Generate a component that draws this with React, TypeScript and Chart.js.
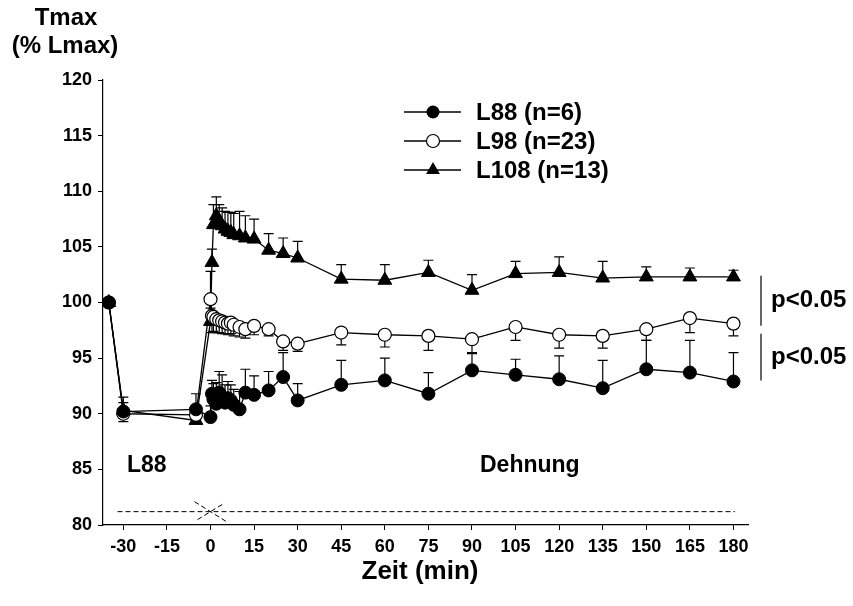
import React, { useEffect, useRef } from 'react';
import { Chart, registerables } from 'chart.js';

Chart.register(...registerables);

// time points (min)
const times = [-35, -30, -5, 0, 0.5, 1, 2, 3, 4, 5, 6, 7, 8, 10, 12, 15, 20, 25, 30, 45, 60, 75, 90, 105, 120, 135, 150, 165, 180];

// L88 (n=6), filled circles, SE drawn upward
const l88 = [100, 90.2, 90.4, 89.7, 91.8, 91.3, 90.9, 91.9, 91.5, 91.0, 91.4, 91.2, 90.8, 90.4, 91.9, 91.7, 92.1, 93.3, 91.2, 92.6, 93.0, 91.8, 93.9, 93.5, 93.1, 92.3, 94.0, 93.7, 92.9];
const l88Err = [0, 0.8, 1.4, 1.0, 1.2, 1.4, 1.9, 1.9, 2.0, 1.6, 1.5, 1.4, 1.4, 1.6, 2.1, 1.7, 1.7, 2.2, 1.5, 2.2, 2.0, 1.9, 1.6, 1.4, 2.1, 2.5, 2.6, 2.9, 2.6];

// L98 (n=23), open circles, SE drawn downward
const l98 = [100, 90.0, 89.9, 100.3, 98.8, 98.7, 98.5, 98.4, 98.3, 98.2, 98.1, 98.2, 98.0, 97.8, 97.6, 97.9, 97.6, 96.5, 96.3, 97.3, 97.1, 97.0, 96.7, 97.8, 97.1, 97.0, 97.6, 98.6, 98.1];
const l98Err = [0, 0.7, 0.6, 0.8, 1.5, 1.3, 1.2, 1.1, 1.1, 1.0, 1.0, 1.0, 1.0, 0.9, 0.8, 0.8, 0.6, 0.8, 0.7, 1.1, 1.1, 1.3, 1.3, 1.2, 1.2, 1.1, 1.0, 1.3, 1.1];

// L108 (n=13), filled triangles, SE drawn upward
const l108 = [100, 90.3, 89.4, 98.3, 103.6, 107.0, 107.8, 107.3, 106.9, 106.6, 106.4, 106.3, 106.1, 106.0, 105.8, 105.7, 104.7, 104.4, 104.0, 102.1, 102.0, 102.7, 101.1, 102.6, 102.7, 102.2, 102.3, 102.3, 102.3];
const l108Err = [0, 1.2, 0.8, 4.5, 1.2, 1.8, 1.7, 1.5, 1.6, 1.6, 1.7, 1.8, 1.9, 2.2, 2.0, 1.8, 1.5, 1.4, 1.5, 1.3, 1.4, 1.1, 1.4, 1.1, 1.4, 1.5, 0.9, 0.8, 0.6];

const seriesLabels = ['L88 (n=6)', 'L98 (n=23)', 'L108 (n=13)'];
const xTicks = [-30, -15, 0, 15, 30, 45, 60, 75, 90, 105, 120, 135, 150, 165, 180];
const yTicks = [80, 85, 90, 95, 100, 105, 110, 115, 120];

// annotations (data units)
const phaseLabels = ['L88', 'Dehnung'];
const phaseLine = { y: 81.2, from: -32, to: 180.5 };
const sigText = 'p<0.05';
const sigRanges = [[102.4, 97.9], [97.2, 93.0]];
const sigTextY = [100.2, 95.1];

const FONT = "'Liberation Sans', Arial, Helvetica, sans-serif";

const errSets = [
  { errs: l88Err, dir: 1 },
  { errs: l98Err, dir: -1 },
  { errs: l108Err, dir: 1 },
];

const toPts = (vals: number[]) => vals.map((v, i) => ({ x: times[i], y: v }));

export default function App() {
  const ref = useRef<HTMLCanvasElement | null>(null);

  useEffect(() => {
    const canvas = ref.current;
    if (!canvas) return;

    const errorBars = {
      id: 'errorBars',
      beforeDatasetsDraw(chart: any) {
        const { ctx } = chart;
        const xs = chart.scales.x;
        const ys = chart.scales.y;
        ctx.save();
        ctx.strokeStyle = '#000';
        ctx.lineWidth = 1.2;
        chart.data.datasets.forEach((ds: any, i: number) => {
          const { errs, dir } = errSets[i];
          ds.data.forEach((p: any, j: number) => {
            const e = errs[j];
            if (!e) return;
            const px = xs.getPixelForValue(p.x);
            const py = ys.getPixelForValue(p.y);
            const pe = ys.getPixelForValue(p.y + dir * e);
            ctx.beginPath();
            ctx.moveTo(px, py);
            ctx.lineTo(px, pe);
            ctx.moveTo(px - 5, pe);
            ctx.lineTo(px + 5, pe);
            ctx.stroke();
          });
        });
        ctx.restore();
      },
    };

    const decorations = {
      id: 'decorations',
      afterDraw(chart: any) {
        const { ctx } = chart;
        const xs = chart.scales.x;
        const ys = chart.scales.y;
        ctx.save();
        ctx.fillStyle = '#000';
        ctx.strokeStyle = '#000';

        // y axis title (two lines)
        ctx.font = `bold 24px ${FONT}`;
        ctx.textAlign = 'center';
        ctx.textBaseline = 'middle';
        ctx.fillText('Tmax', 66, 18);
        ctx.fillText('(% Lmax)', 65, 46);

        // x axis title
        ctx.font = `bold 26px ${FONT}`;
        ctx.fillText('Zeit (min)', 420, 572);

        // legend
        ctx.font = `bold 24px ${FONT}`;
        const legendY = [112, 141, 170];
        legendY.forEach((ly, i) => {
          ctx.lineWidth = 1.3;
          ctx.beginPath();
          ctx.moveTo(404, ly);
          ctx.lineTo(461, ly);
          ctx.stroke();
          ctx.lineWidth = 1.2;
          if (i === 0) {
            ctx.beginPath();
            ctx.arc(433, ly, 6.5, 0, Math.PI * 2);
            ctx.fill();
          } else if (i === 1) {
            ctx.beginPath();
            ctx.arc(433, ly, 6.5, 0, Math.PI * 2);
            ctx.fillStyle = '#fff';
            ctx.fill();
            ctx.stroke();
            ctx.fillStyle = '#000';
          } else {
            const r = 8;
            ctx.beginPath();
            ctx.moveTo(433, ly - r);
            ctx.lineTo(433 + r * Math.cos(Math.PI / 6), ly + r / 2);
            ctx.lineTo(433 - r * Math.cos(Math.PI / 6), ly + r / 2);
            ctx.closePath();
            ctx.fill();
          }
          ctx.textAlign = 'left';
          ctx.fillText(seriesLabels[i], 476, ly + 1);
        });

        // phase line + labels
        const ly = ys.getPixelForValue(phaseLine.y);
        ctx.lineWidth = 1;
        ctx.setLineDash([5, 3]);
        ctx.beginPath();
        ctx.moveTo(xs.getPixelForValue(phaseLine.from), ly);
        ctx.lineTo(xs.getPixelForValue(phaseLine.to), ly);
        ctx.stroke();
        const x0 = xs.getPixelForValue(0);
        ctx.beginPath();
        ctx.moveTo(x0 - 16, ly - 10);
        ctx.lineTo(x0 + 16, ly + 10);
        ctx.moveTo(x0 - 13, ly + 8);
        ctx.lineTo(x0 + 13, ly - 8);
        ctx.stroke();
        ctx.setLineDash([]);

        ctx.font = `bold 23px ${FONT}`;
        ctx.textAlign = 'left';
        ctx.fillText(phaseLabels[0], 127, 466);
        ctx.fillText(phaseLabels[1], 480, 466);

        // significance brackets
        ctx.font = `bold 24px ${FONT}`;
        const bx = xs.right + 13;
        ctx.lineWidth = 1.2;
        sigRanges.forEach((r, i) => {
          ctx.beginPath();
          ctx.moveTo(bx, ys.getPixelForValue(r[0]));
          ctx.lineTo(bx, ys.getPixelForValue(r[1]));
          ctx.stroke();
          ctx.textAlign = 'left';
          ctx.fillText(sigText, bx + 10, ys.getPixelForValue(sigTextY[i]));
        });

        ctx.restore();
      },
    };

    const chart = new Chart(canvas, {
      type: 'line',
      data: {
        datasets: [
          {
            label: seriesLabels[0],
            data: toPts(l88),
            borderColor: '#000',
            borderWidth: 1.3,
            pointStyle: 'circle',
            pointRadius: 6.5,
            pointBackgroundColor: '#000',
            pointBorderColor: '#000',
            pointBorderWidth: 1,
            tension: 0,
          },
          {
            label: seriesLabels[1],
            data: toPts(l98),
            borderColor: '#000',
            borderWidth: 1.3,
            pointStyle: 'circle',
            pointRadius: 6.5,
            pointBackgroundColor: '#fff',
            pointBorderColor: '#000',
            pointBorderWidth: 1.2,
            tension: 0,
          },
          {
            label: seriesLabels[2],
            data: toPts(l108),
            borderColor: '#000',
            borderWidth: 1.3,
            pointStyle: 'triangle',
            pointRadius: 8,
            pointBackgroundColor: '#000',
            pointBorderColor: '#000',
            pointBorderWidth: 1,
            tension: 0,
          },
        ],
      },
      options: {
        animation: false,
        responsive: false,
        devicePixelRatio: 1,
        layout: { padding: { left: 0, top: 80, right: 105, bottom: 0 }, autoPadding: false },
        plugins: { legend: { display: false }, tooltip: { enabled: false } },
        scales: {
          x: {
            type: 'linear',
            min: -37,
            max: 185,
            afterBuildTicks: (s: any) => {
              s.ticks = xTicks.map((v) => ({ value: v }));
            },
            afterFit: (s: any) => {
              s.height = 81;
            },
            grid: { display: true, drawOnChartArea: false, drawTicks: true, tickLength: 5, tickColor: '#000', lineWidth: 1 },
            border: { display: true, color: '#000', width: 1.2 },
            ticks: { color: '#000', font: { family: FONT, size: 18, weight: 'bold' }, padding: 6, maxRotation: 0, autoSkip: false },
          },
          y: {
            type: 'linear',
            min: 80,
            max: 120,
            afterBuildTicks: (s: any) => {
              s.ticks = yTicks.map((v) => ({ value: v }));
            },
            afterFit: (s: any) => {
              s.width = 103;
            },
            grid: { display: true, drawOnChartArea: false, drawTicks: true, tickLength: 5, tickColor: '#000', lineWidth: 1 },
            border: { display: true, color: '#000', width: 1.2 },
            ticks: { color: '#000', font: { family: FONT, size: 18, weight: 'bold' }, padding: 6 },
          },
        },
      },
      plugins: [errorBars, decorations],
    } as any);

    return () => chart.destroy();
  }, []);

  return (
    <div style={{ position: 'fixed', left: 0, top: 0, width: 853, height: 606, background: '#fff' }}>
      <canvas ref={ref} width={853} height={606} />
    </div>
  );
}
